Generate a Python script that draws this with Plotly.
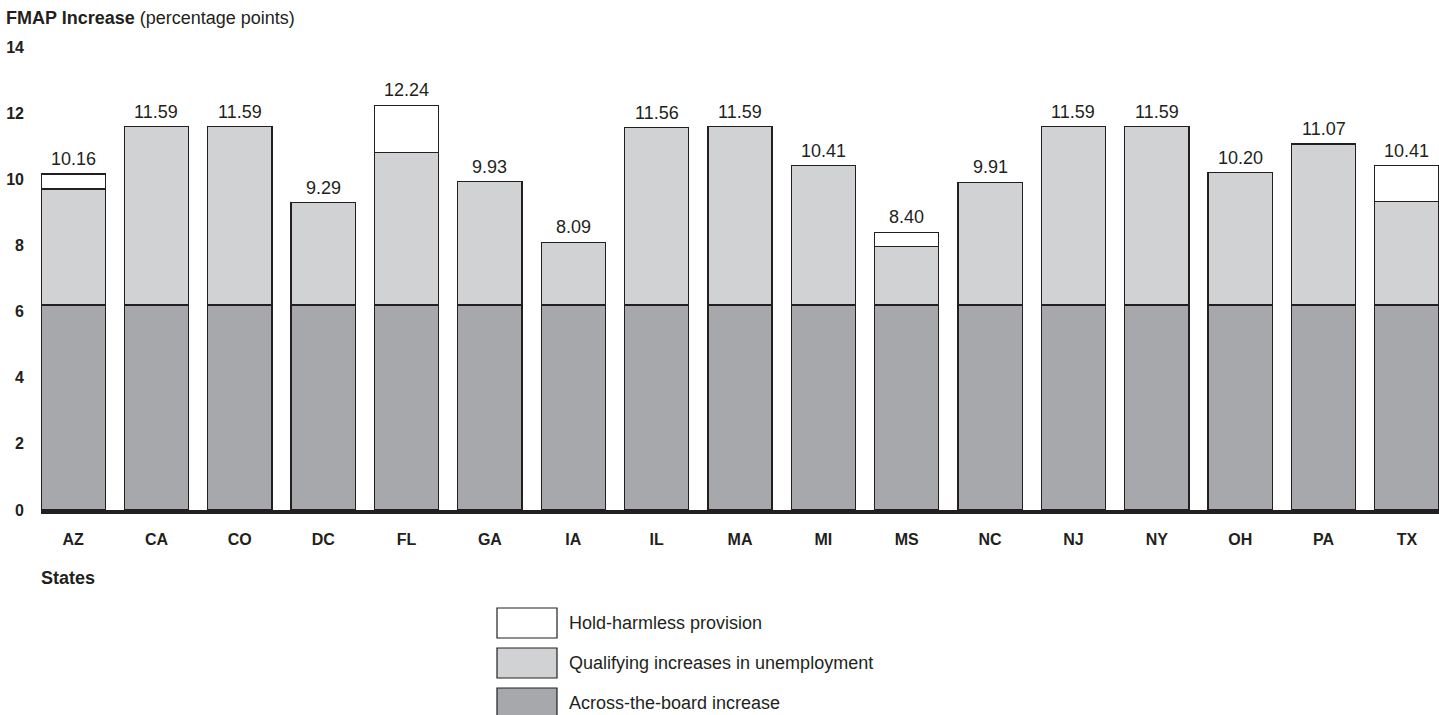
import plotly.graph_objects as go

states = ["AZ", "CA", "CO", "DC", "FL", "GA", "IA", "IL", "MA", "MI", "MS",
          "NC", "NJ", "NY", "OH", "PA", "TX"]
across_the_board = [6.2] * 17
qualifying = [3.51, 5.39, 5.39, 3.09, 4.62, 3.73, 1.89, 5.36, 5.39, 4.21, 1.77,
              3.71, 5.39, 5.39, 4.00, 4.87, 3.12]
hold_harmless = [0.45, None, None, None, 1.42, None, None, None, None, None, 0.43,
                 None, None, None, None, None, 1.09]
totals = [10.16, 11.59, 11.59, 9.29, 12.24, 9.93, 8.09, 11.56, 11.59, 10.41, 8.40,
          9.91, 11.59, 11.59, 10.20, 11.07, 10.41]
y_ticks = [0, 2, 4, 6, 8, 10, 12, 14]

series_names = ["Across-the-board increase", "Qualifying increases in unemployment",
                "Hold-harmless provision"]
series_colors = ["#a7a8ab", "#d1d2d4", "#ffffff"]
series_values = [across_the_board, qualifying, hold_harmless]

FONT = "Liberation Sans, Arial, sans-serif"
LINE = "#231f20"

fig = go.Figure()
for name, color, vals in zip(series_names, series_colors, series_values):
    fig.add_trace(go.Bar(
        x=states, y=vals, name=name,
        marker=dict(color=color, line=dict(color=LINE, width=1.3)),
        showlegend=False, hoverinfo="skip",
    ))

for s, t in zip(states, totals):
    fig.add_annotation(x=s, y=t, text=f"{t:.2f}", showarrow=False,
                       yanchor="bottom", yshift=3,
                       font=dict(family=FONT, size=18, color="#231f20"))

# Plot area geometry (pixels) for paper conversion
W, H = 1439, 715
L, R, T, B = 41, 0, 47, 205
pw, ph = W - L - R, H - T - B

def px_x(px):
    return (px - L) / pw

def px_y(py):
    return (H - B - py) / ph

# Manual legend (large boxes as in reference)
legend_order = [2, 1, 0]
box_tops = [608, 648, 688]
for idx, top in zip(legend_order, box_tops):
    fig.add_shape(type="rect", xref="paper", yref="paper",
                  x0=px_x(497), x1=px_x(557), y0=px_y(top), y1=px_y(top + 30),
                  fillcolor=series_colors[idx], line=dict(color=LINE, width=1.2),
                  layer="above")
    fig.add_annotation(xref="paper", yref="paper", x=px_x(567), y=px_y(top + 15),
                       text=series_names[idx], showarrow=False,
                       xanchor="left", yanchor="middle",
                       font=dict(family=FONT, size=18, color="#231f20"))

fig.add_annotation(xref="paper", yref="paper", x=px_x(39), y=px_y(578),
                   text="<b>States</b>", showarrow=False,
                   xanchor="left", yanchor="middle",
                   font=dict(family=FONT, size=18, color="#231f20"))

fig.update_layout(
    width=W, height=H,
    margin=dict(l=L, r=R, t=T, b=B),
    barmode="stack", bargap=0.23,
    plot_bgcolor="white", paper_bgcolor="white",
    title=dict(text="<b>FMAP Increase</b> (percentage points)",
               xref="container", yref="container",
               x=6 / W, y=1 - 18 / H, xanchor="left", yanchor="middle",
               font=dict(family=FONT, size=18, color="#231f20")),
    xaxis=dict(range=[-0.385, 16.385], showgrid=False, zeroline=False,
               showline=True, linecolor=LINE, linewidth=4,
               ticks="", ticklabelstandoff=12,
               tickfont=dict(family=FONT, size=16, color="#231f20", weight="bold")),
    yaxis=dict(range=[0, 14], tickvals=y_ticks, showgrid=False, zeroline=False,
               showline=False, ticks="", ticklabelstandoff=16,
               tickfont=dict(family=FONT, size=16, color="#231f20", weight="bold")),
)

fig.write_html("out.html")
